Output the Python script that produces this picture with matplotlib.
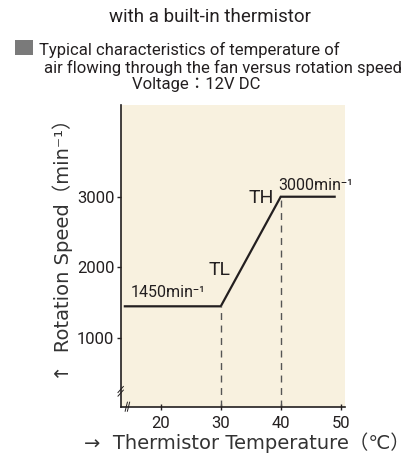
import matplotlib.pyplot as plt
from matplotlib.patches import Rectangle

# chart data
temps = [14, 30, 40, 49]
speeds = [1450, 1450, 3000, 3000]
tl_temp, th_temp = 30, 40
low_speed, high_speed = 1450, 3000
xticks = [20, 30, 40, 50]
yticks = [1000, 2000, 3000]

narrow = ['Roboto', 'Noto Sans CJK JP', 'DejaVu Sans']
wide = ['DejaVu Sans', 'Noto Sans CJK JP']
ink = '#231f20'
plt.rcParams['font.family'] = narrow

fig = plt.figure(figsize=(4.19, 4.63), dpi=100)
ax = fig.add_axes([0.288, 0.1216, 0.535, 0.652])
ax.set_facecolor('#f8f1df')

ax.plot(temps, speeds, color=ink, lw=1.6, solid_joinstyle='miter')
ax.plot([tl_temp, tl_temp], [30, low_speed], color='#555555', lw=1.0, ls=(0, (5, 4)))
ax.plot([th_temp, th_temp], [30, high_speed], color='#555555', lw=1.0, ls=(0, (5, 4)))

ax.set_xlim(13.3, 50.7)
ax.set_ylim(30, 4300)
ax.set_xticks(xticks)
ax.set_yticks(yticks)
ax.tick_params(axis='x', direction='inout', length=5, width=1, labelsize=12, pad=4,
               colors=ink)
ax.tick_params(axis='y', direction='out', length=3, width=1, labelsize=12, pad=1.5,
               colors=ink)
for s in ['top', 'right']:
    ax.spines[s].set_visible(False)
for s in ['left', 'bottom']:
    ax.spines[s].set_linewidth(1.2)
    ax.spines[s].set_color(ink)

txt = dict(color=ink, family=narrow)
ax.text(15.0, low_speed + 90, '1450min⁻¹', fontsize=11.5, ha='left', va='bottom', **txt)
ax.text(31.6, low_speed + 380, 'TL', fontsize=14, ha='right', va='bottom', **txt)
ax.text(38.8, high_speed - 140, 'TH', fontsize=14, ha='right', va='bottom', **txt)
ax.text(39.6, high_speed + 50, '3000min⁻¹', fontsize=11.5, ha='left', va='bottom', **txt)

# axis break marks
for dy in (0.0, 0.012):
    ax.plot([-0.012, 0.012], [0.035 + dy, 0.055 + dy], transform=ax.transAxes,
            color=ink, lw=0.7, clip_on=False)
for dx in (0.0, 0.01):
    ax.plot([0.02 + dx, 0.03 + dx], [-0.015, 0.015], transform=ax.transAxes,
            color=ink, lw=0.7, clip_on=False)

fig.text(0.150, 0.47, '↑  Rotation Speed（min⁻¹）', rotation=90,
         fontsize=14, ha='center', va='center', family=wide, color='#333333')
fig.text(0.59, 0.043, '→  Thermistor Temperature（℃）', fontsize=14, ha='center',
         va='center', family=wide, color='#333333')

fig.text(0.5, 0.963, 'with a built-in thermistor', fontsize=13.5, ha='center', va='center',
         color=ink, family=narrow)
fig.patches.append(Rectangle((0.036, 0.881), 0.043, 0.032, transform=fig.transFigure,
                             facecolor='#7a7a7a', edgecolor='none'))
fig.text(0.093, 0.893, 'Typical characteristics of temperature of', fontsize=12,
         ha='left', va='center', color=ink, family=narrow)
fig.text(0.105, 0.854, 'air flowing through the fan versus rotation speed', fontsize=12,
         ha='left', va='center', color=ink, family=narrow)
fig.text(0.315, 0.817, 'Voltage：12V DC', fontsize=12, ha='left', va='center',
         color=ink, family=narrow)

fig.savefig('out.png', dpi=100)
